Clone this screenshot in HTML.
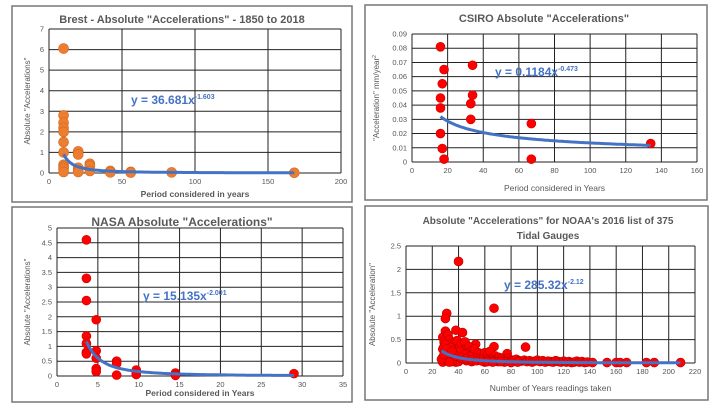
<!DOCTYPE html>
<html><head><meta charset="utf-8"><style>
html,body{margin:0;padding:0;background:#fff;}
svg{display:block;font-family:"Liberation Sans",sans-serif;}
</style></head><body>
<svg id="s" width="723" height="407" viewBox="0 0 723 407" xmlns="http://www.w3.org/2000/svg"></svg>
<script>
// ---- Brest data ----
const brestX = [10,10,10,10,10,10,10,10,10,10,10,20,20,20,20,20,28,28,28,42,42,56,56,84,168];
const brestY = [6.05,2.8,2.45,2.2,2.0,1.5,1.0,0.4,0.3,0.2,0.05,1.05,0.9,0.25,0.1,0.05,0.45,0.35,0.1,0.1,0.03,0.05,0.02,0.03,0.01];
const brestXTicks = [0,50,100,150,200];
const brestYTicks = [0,1,2,3,4,5,6,7];
// ---- CSIRO data ----
const csiroX = [16,16,16,16,17,17,18,18,34,34,33,33,67,67,134];
const csiroY = [0.081,0.045,0.038,0.020,0.055,0.0095,0.065,0.002,0.068,0.047,0.041,0.030,0.027,0.002,0.013];
const csiroXTicks = [0,20,40,60,80,100,120,140,160];
const csiroYTicks = [0,0.01,0.02,0.03,0.04,0.05,0.06,0.07,0.08,0.09];
// ---- NASA data ----
const nasaX = [3.6,3.6,3.6,3.6,3.6,3.6,3.6,4.8,4.8,4.8,4.8,4.8,7.3,7.3,7.3,9.7,9.7,9.7,14.5,14.5,14.5,29];
const nasaY = [4.6,3.3,2.55,1.35,1.1,0.8,0.75,1.9,0.85,0.6,0.25,0.15,0.5,0.42,0.03,0.2,0.1,0.05,0.1,0.05,0.02,0.08];
const nasaXTicks = [0,5,10,15,20,25,30,35];
const nasaYTicks = [0,0.5,1,1.5,2,2.5,3,3.5,4,4.5,5];
// ---- NOAA data ----
const noaaX = [40,67,31,30,91,38,43,30,28,32,53,67,77,28,29,33,35,36,37,39,41,42,44,45,46,47,48,49,50,51,52,54,55,56,57,58,59,60,61,62,63,64,65,66,68,69,70,71,72,73,74,75,76,78,79,80,82,84,86,88,90,92,94,96,98,100,102,104,106,108,110,112,114,116,118,120,122,124,126,128,130,132,134,136,138,142,153,160,163,168,183,189,209,28,30,32,34,36,38,40,42,44,46,48,50,55,60,65,70,75,80,85,28,31,35,39,43,47,52,57,62,29,33,37,41,45,49,53,57,61,65,30,34,38,42,46,50,54,58,62,66,72,27,29,31,33,35];
const noaaY = [2.17,1.17,1.06,0.95,0.34,0.7,0.65,0.68,0.55,0.6,0.4,0.35,0.2,0.3,0.45,0.5,0.42,0.38,0.3,0.48,0.35,0.4,0.28,0.45,0.3,0.22,0.35,0.25,0.2,0.18,0.3,0.15,0.22,0.12,0.2,0.1,0.15,0.22,0.12,0.18,0.1,0.25,0.08,0.12,0.15,0.1,0.08,0.12,0.06,0.1,0.05,0.08,0.06,0.1,0.05,0.04,0.06,0.08,0.05,0.04,0.06,0.03,0.05,0.02,0.04,0.06,0.03,0.05,0.02,0.04,0.03,0.02,0.05,0.03,0.02,0.04,0.02,0.03,0.01,0.02,0.04,0.02,0.03,0.01,0.02,0.01,0.01,0.01,0.01,0.01,0.01,0.01,0.01,0.12,0.2,0.05,0.15,0.1,0.02,0.03,0.1,0.08,0.05,0.12,0.03,0.06,0.02,0.05,0.03,0.02,0.01,0.02,0.02,0.08,0.03,0.2,0.15,0.1,0.05,0.08,0.04,0.35,0.28,0.22,0.25,0.18,0.14,0.1,0.08,0.06,0.05,0.4,0.33,0.15,0.12,0.09,0.07,0.05,0.04,0.03,0.02,0.03,0.08,0.18,0.3,0.02,0.25];
const noaaXTicks = [0,20,40,60,80,100,120,140,160,180,200,220];
const noaaYTicks = [0,0.5,1,1.5,2,2.5];

const NS="http://www.w3.org/2000/svg";
const svg=document.getElementById('s');
function mk(tag,attrs,parent){const e=document.createElementNS(NS,tag);for(const k in attrs)e.setAttribute(k,attrs[k]);(parent||svg).appendChild(e);return e;}

function chart(c){
  const g=mk('g',{});
  
  
  const fr=mk('rect',{x:c.frame[0],y:c.frame[1],width:c.frame[2],height:c.frame[3],fill:'#fff',stroke:'#777','stroke-width':1.5},g);
  
  
  const [L,T,R,B]=c.plot;
  const xmin=c.xt[0],xmax=c.xt[c.xt.length-1],ymin=c.yt[0],ymax=c.yt[c.yt.length-1];
  const sx=v=>L+(v-xmin)/(xmax-xmin)*(R-L);
  const sy=v=>B-(v-ymin)/(ymax-ymin)*(B-T);
  c.xt.forEach(t=>{
    const l=mk('line',{x1:sx(t),x2:sx(t),y1:T,y2:B,stroke:'#222','stroke-width':1},g);
    
    
    const tx=mk('text',{x:sx(t),y:B+11,'font-size':7.5,fill:'#555','text-anchor':'middle'},g);
    tx.textContent=t;
    
    
  });
  c.yt.forEach(t=>{
    const l=mk('line',{x1:L,x2:R,y1:sy(t),y2:sy(t),stroke:'#222','stroke-width':1},g);
    
    
    const tx=mk('text',{x:L-5,y:sy(t)+2.5,'font-size':7.5,fill:'#555','text-anchor':'end'},g);
    tx.textContent=t;
    
    
  });
  c.xs.forEach((xv,i)=>{
    const d=mk('circle',{cx:sx(xv),cy:sy(c.ys[i]),r:c.r,fill:c.col,stroke:c.stroke,'stroke-width':0.6},g);
    
    
  });
  let p='';
  const x0=Math.min(...c.xs),x1=Math.max(...c.xs);
  for(let i=0;i<=100;i++){const xv=x0+(x1-x0)*i/100;p+=(i?'L':'M')+sx(xv).toFixed(1)+','+sy(c.a*Math.pow(xv,c.b)).toFixed(1);}
  const tl=mk('path',{d:p,fill:'none',stroke:'#4472C4','stroke-width':3},g);
  
  
  c.title.forEach((s,i)=>{
    const t=mk('text',{x:c.tx,y:c.ty+i*15,'font-size':c.tfs,'font-weight':'bold',fill:'#595959','text-anchor':'middle'},g);
    t.textContent=s;
    
    
  });
  const xl=mk('text',{x:(L+R)/2,y:c.xly,'font-size':8.5,'font-weight':c.xlb?'bold':'normal',fill:'#595959','text-anchor':'middle'},g);
  xl.textContent=c.xl;
  
  
  const yl=mk('text',{x:0,y:0,'font-size':8,fill:'#595959','text-anchor':'middle',transform:`translate(${c.ylx},${(T+B)/2}) rotate(-90)`},g);
  yl.innerHTML=c.yl;
  
  
  const eq=mk('text',{x:c.eq[0],y:c.eq[1],'font-size':12,'font-weight':'bold',fill:'#4472C4'},g);
  eq.innerHTML=c.eqs;
  
  
}

chart({name:'brest-chart',frame:[12,6,340,196],plot:[49,29,341,173],xt:brestXTicks,yt:brestYTicks,xs:brestX,ys:brestY,
  r:5,col:'#ED7D31',stroke:'#d06a20',a:36.681,b:-1.603,title:['Brest - Absolute "Accelerations" - 1850 to 2018'],tx:182,ty:23,tfs:11,
  xl:'Period considered in years',xly:197,xlb:true,ylx:30,yl:'Absolute "Accelerations"',eq:[131,104],
  eqs:'y = 36.681x<tspan dy="-5" font-size="7">-1.603</tspan>'});
chart({name:'csiro-chart',frame:[365,5,342,195],plot:[412,34,697,162],xt:csiroXTicks,yt:csiroYTicks,xs:csiroX,ys:csiroY,
  r:4.5,col:'#FF0000',stroke:'#c00',a:0.1184,b:-0.473,title:['CSIRO Absolute "Accelerations"'],tx:544,ty:22,tfs:11,
  xl:'Period considered in Years',xly:191,xlb:false,ylx:379,yl:'"Acceleration" mm/year<tspan dy="-3" font-size="5">2</tspan>',eq:[495,76],
  eqs:'y = 0.1184x<tspan dy="-5" font-size="7">-0.473</tspan>'});
chart({name:'nasa-chart',frame:[12,207,340,195],plot:[57,228,343,376],xt:nasaXTicks,yt:nasaYTicks,xs:nasaX,ys:nasaY,
  r:4.5,col:'#FF0000',stroke:'#c00',a:15.135,b:-2.001,title:['NASA Absolute "Accelerations"'],tx:182,ty:226,tfs:12,
  xl:'Period considered in Years',xly:396,xlb:true,ylx:30,yl:'Absolute "Accelerations"',eq:[143,300],
  eqs:'y = 15.135x<tspan dy="-5" font-size="7">-2.001</tspan>'});
chart({name:'noaa-chart',frame:[365,206,343,194],plot:[406,246,695,363],xt:noaaXTicks,yt:noaaYTicks,xs:noaaX,ys:noaaY,
  r:4.5,col:'#FF0000',stroke:'#b00',a:285.32,b:-2.12,title:['Absolute "Accelerations" for NOAA\'s 2016 list of 375','Tidal Gauges'],tx:548,ty:224,tfs:10,
  xl:'Number of Years readings taken',xly:391,xlb:false,ylx:375,yl:'Absolute "Acceleration"',eq:[504,289],
  eqs:'y = 285.32x<tspan dy="-5" font-size="7">-2.12</tspan>'});
</script>
</body></html>
